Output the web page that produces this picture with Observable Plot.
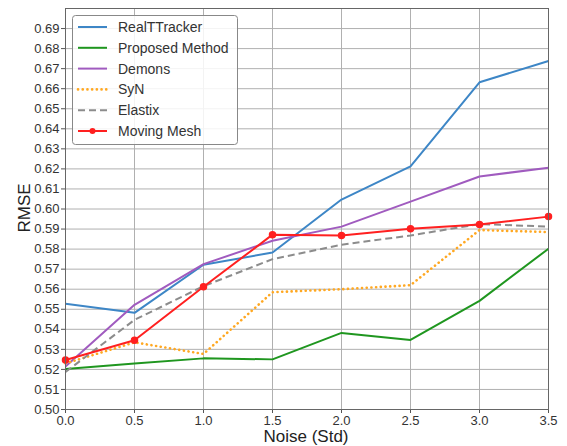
<!DOCTYPE html>
<html><head><meta charset="utf-8">
<script src="https://cdn.jsdelivr.net/npm/d3@7"></script>
<script src="https://cdn.jsdelivr.net/npm/@observablehq/plot@0.6"></script>
<style>body{margin:0;background:#fff}#chart svg{display:block}</style>
</head><body><div id="chart"></div>
<script>
const noise = [0, 0.5, 1.0, 1.5, 2.0, 2.5, 3.0, 3.5];
const seriesNames = ["RealTTracker", "Proposed Method", "Demons", "SyN", "Elastix", "Moving Mesh"];
const realTTracker = [0.5527, 0.5482, 0.5722, 0.5783, 0.6047, 0.6213, 0.6632, 0.6738];
const proposedMethod = [0.5202, 0.5230, 0.5255, 0.5250, 0.5382, 0.5347, 0.5542, 0.5802];
const demons = [0.5215, 0.5522, 0.5725, 0.5842, 0.5912, 0.6037, 0.6162, 0.6206];
const syn = [0.5230, 0.5335, 0.5277, 0.5585, 0.5600, 0.5620, 0.5895, 0.5885];
const elastix = [0.5187, 0.5447, 0.5615, 0.5750, 0.5822, 0.5868, 0.5925, 0.5912];
const movingMesh = [0.5247, 0.5345, 0.5612, 0.5872, 0.5868, 0.5902, 0.5923, 0.5962];
const xTicks = [0, 0.5, 1.0, 1.5, 2.0, 2.5, 3.0, 3.5];
const yTicks = d3.range(50, 70).map(v => v / 100);

const colors = ["#3d86c6", "#1f961f", "#a05bbf", "#ffa822", "#8c8c8c", "#ff2020"];
const dotted = "0.1,4.6";
const dashes = [null, null, null, dotted, "7,4", null];
const widths = [2, 2, 2, 2.6, 2, 2];
const values = [realTTracker, proposedMethod, demons, syn, elastix, movingMesh];

const rows = seriesNames.map((name, i) => noise.map((x, j) => ({series: name, x, y: values[i][j]})));

const font = "'Liberation Sans', Arial, sans-serif";

const lineMarks = rows.map((data, i) => Plot.line(data, {
  x: "x", y: "y", stroke: colors[i], strokeWidth: widths[i],
  strokeDasharray: dashes[i] || undefined,
  strokeLinecap: dashes[i] === dotted ? "round" : "butt"
}));

const chart = Plot.plot({
  width: 567, height: 446,
  marginLeft: 65, marginRight: 19, marginTop: 8, marginBottom: 37,
  style: {fontFamily: font, fontSize: "13px", color: "#333", background: "#fff"},
  x: {domain: [0, 3.5], ticks: xTicks, tickFormat: d3.format(".1f"), label: null},
  y: {domain: [0.5, 0.7], ticks: yTicks, tickFormat: d3.format(".2f"), label: null},
  marks: [
    Plot.gridX(xTicks, {stroke: "#b0b0b0", strokeOpacity: 1, strokeWidth: 1}),
    Plot.gridY(yTicks, {stroke: "#b0b0b0", strokeOpacity: 1, strokeWidth: 1}),
    Plot.axisX(xTicks, {tickSize: 4, tickPadding: 2, stroke: "#555", fill: "#333", fontSize: 13, label: null, tickFormat: d3.format(".1f")}),
    Plot.axisY(yTicks, {tickSize: 4, tickPadding: 2, stroke: "#555", fill: "#333", fontSize: 13, label: null, tickFormat: d3.format(".2f")}),
    ...lineMarks,
    Plot.dot(rows[5], {x: "x", y: "y", r: 3, fill: colors[5], stroke: colors[5]}),
    Plot.frame({stroke: "#666", strokeWidth: 1})
  ]
});

const svg = d3.select(chart);
// axis labels
svg.append("text").attr("x", 306).attr("y", 442).attr("text-anchor", "middle")
  .attr("font-family", font).attr("font-size", 17).attr("fill", "#222").text("Noise (Std)");
svg.append("text").attr("transform", "translate(30,208) rotate(-90)").attr("text-anchor", "middle")
  .attr("font-family", font).attr("font-size", 17).attr("fill", "#222").text("RMSE");

// legend
const lg = svg.append("g").attr("text-anchor", "start");
lg.append("rect").attr("x", 72.5).attr("y", 15.5).attr("width", 165).attr("height", 129).attr("rx", 3)
  .attr("fill", "#fff").attr("fill-opacity", 0.85).attr("stroke", "#888").attr("stroke-width", 1);
seriesNames.forEach((name, i) => {
  const y = 27 + i * 20.8;
  lg.append("line").attr("x1", 78).attr("x2", 107).attr("y1", y).attr("y2", y)
    .attr("stroke", colors[i]).attr("stroke-width", widths[i])
    .attr("stroke-dasharray", dashes[i]).attr("stroke-linecap", dashes[i] === dotted ? "round" : "butt");
  if (i === 5) lg.append("circle").attr("cx", 92.5).attr("cy", y).attr("r", 3).attr("fill", colors[i]);
  lg.append("text").attr("x", 118).attr("y", y).attr("dy", "0.35em").attr("text-anchor", "start")
    .attr("font-family", font).attr("font-size", 14).attr("fill", "#333").text(name);
});

document.getElementById("chart").appendChild(chart);
</script>
</body></html>
